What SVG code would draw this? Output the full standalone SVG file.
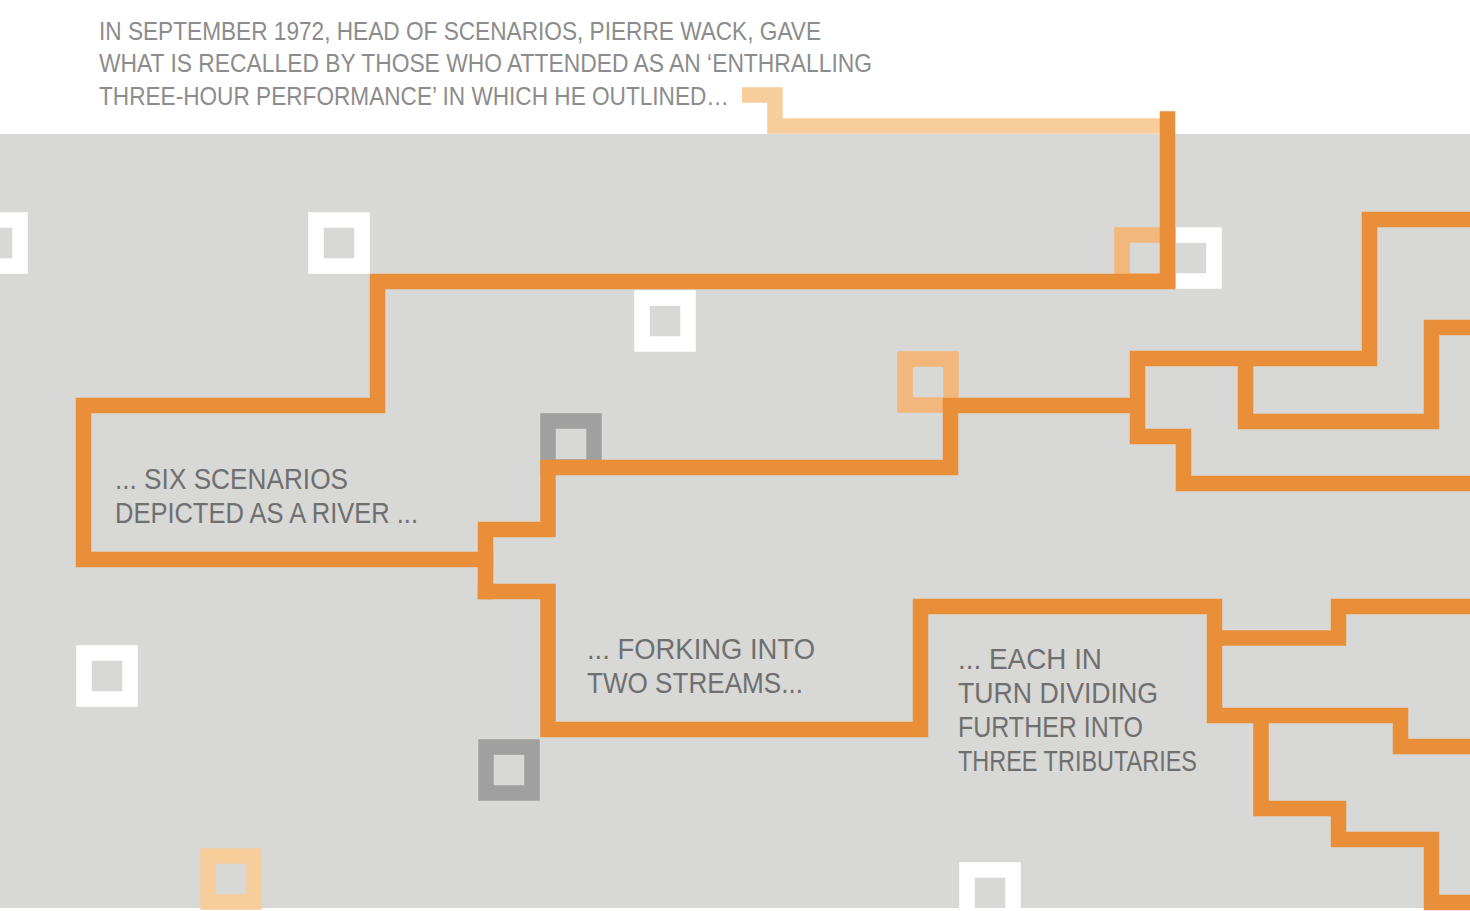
<svg xmlns="http://www.w3.org/2000/svg" width="1470" height="911" viewBox="0 0 1470 911">
<style>
.r{fill:none;stroke:#e98f39;stroke-width:15.5;stroke-linecap:square;stroke-linejoin:miter}
.sq{fill:none;stroke-width:15.5}
.w{stroke:#ffffff}.g{stroke:#9fa09f}.lo{stroke:#f2b77a}.po{stroke:#f7cd9c}
.t{font-family:"Liberation Sans",Arial,sans-serif;fill:#8c8c8c;font-size:25px}
.l{font-family:"Liberation Sans",Arial,sans-serif;fill:#6f6f6f;font-size:29px}
</style>
<rect width="1470" height="911" fill="#ffffff"/>
<rect x="0" y="134" width="1470" height="774" fill="#d8d8d6"/>
<g id="squares">
<rect class="sq w" x="-26" y="220" width="46" height="46"/>
<rect class="sq w" x="316" y="220" width="46" height="46"/>
<rect class="sq w" x="642" y="298" width="46" height="46"/>
<rect class="sq w" x="1168" y="235" width="46" height="46"/>
<rect class="sq lo" x="1122" y="235" width="46" height="46"/>
<rect class="sq lo" x="905" y="359" width="46" height="46"/>
<rect class="sq g" x="548" y="421" width="46" height="46"/>
<rect class="sq w" x="84" y="653" width="46" height="46"/>
<rect class="sq g" x="486" y="747" width="46" height="46"/>
<rect class="sq po" x="208" y="856" width="46" height="46"/>
<rect class="sq w" x="967" y="870" width="46" height="46"/>
</g>
<g id="connectors">
<path d="M742 95 H775 V126 H1160" fill="none" stroke="#f7cd9c" stroke-width="15.5" stroke-linecap="butt"/>
<path class="r" stroke-linecap="butt" d="M1167.5 119 V281.5 H377.5 V405.5 H83.5 V559.5 H485.5"/>
<path class="r" d="M485.5 529.5 V591.5 M485.5 529.5 H548 V467.5 H950.5 V405.5 H1137.5 M1137.5 358.5 V436.5 H1183.5 V483.5 H1470 M1137.5 358.5 H1369.5 V219.5 H1470 M1245.5 358.5 V421.5 H1431.5 V327.5 H1470"/>
<path class="r" d="M485.5 591.5 H548 V729.5 H920.5 V606.5 H1214.5 V715.5 H1400.5 V746.5 H1470 M1214.5 638 H1338.5 V606.5 H1470 M1261 715.5 V808.5 H1338.5 V839.5 H1431.5 V902.5 H1470"/>
</g>
<g id="texts">
<text class="t" x="99" y="40" textLength="722" lengthAdjust="spacingAndGlyphs">IN SEPTEMBER 1972, HEAD OF SCENARIOS, PIERRE WACK, GAVE</text>
<text class="t" x="99" y="72" textLength="773" lengthAdjust="spacingAndGlyphs">WHAT IS RECALLED BY THOSE WHO ATTENDED AS AN ‘ENTHRALLING</text>
<text class="t" x="99" y="105" textLength="630" lengthAdjust="spacingAndGlyphs">THREE-HOUR PERFORMANCE’ IN WHICH HE OUTLINED…</text>
<text class="l" x="115" y="489" textLength="233" lengthAdjust="spacingAndGlyphs">... SIX SCENARIOS</text>
<text class="l" x="115" y="523" textLength="303" lengthAdjust="spacingAndGlyphs">DEPICTED AS A RIVER ...</text>
<text class="l" x="587" y="659" textLength="228" lengthAdjust="spacingAndGlyphs">... FORKING INTO</text>
<text class="l" x="587" y="693" textLength="216" lengthAdjust="spacingAndGlyphs">TWO STREAMS...</text>
<text class="l" x="958" y="669" textLength="144" lengthAdjust="spacingAndGlyphs">... EACH IN</text>
<text class="l" x="958" y="703" textLength="200" lengthAdjust="spacingAndGlyphs">TURN DIVIDING</text>
<text class="l" x="958" y="737" textLength="185" lengthAdjust="spacingAndGlyphs">FURTHER INTO</text>
<text class="l" x="958" y="771" textLength="239" lengthAdjust="spacingAndGlyphs">THREE TRIBUTARIES</text>
</g>
</svg>
